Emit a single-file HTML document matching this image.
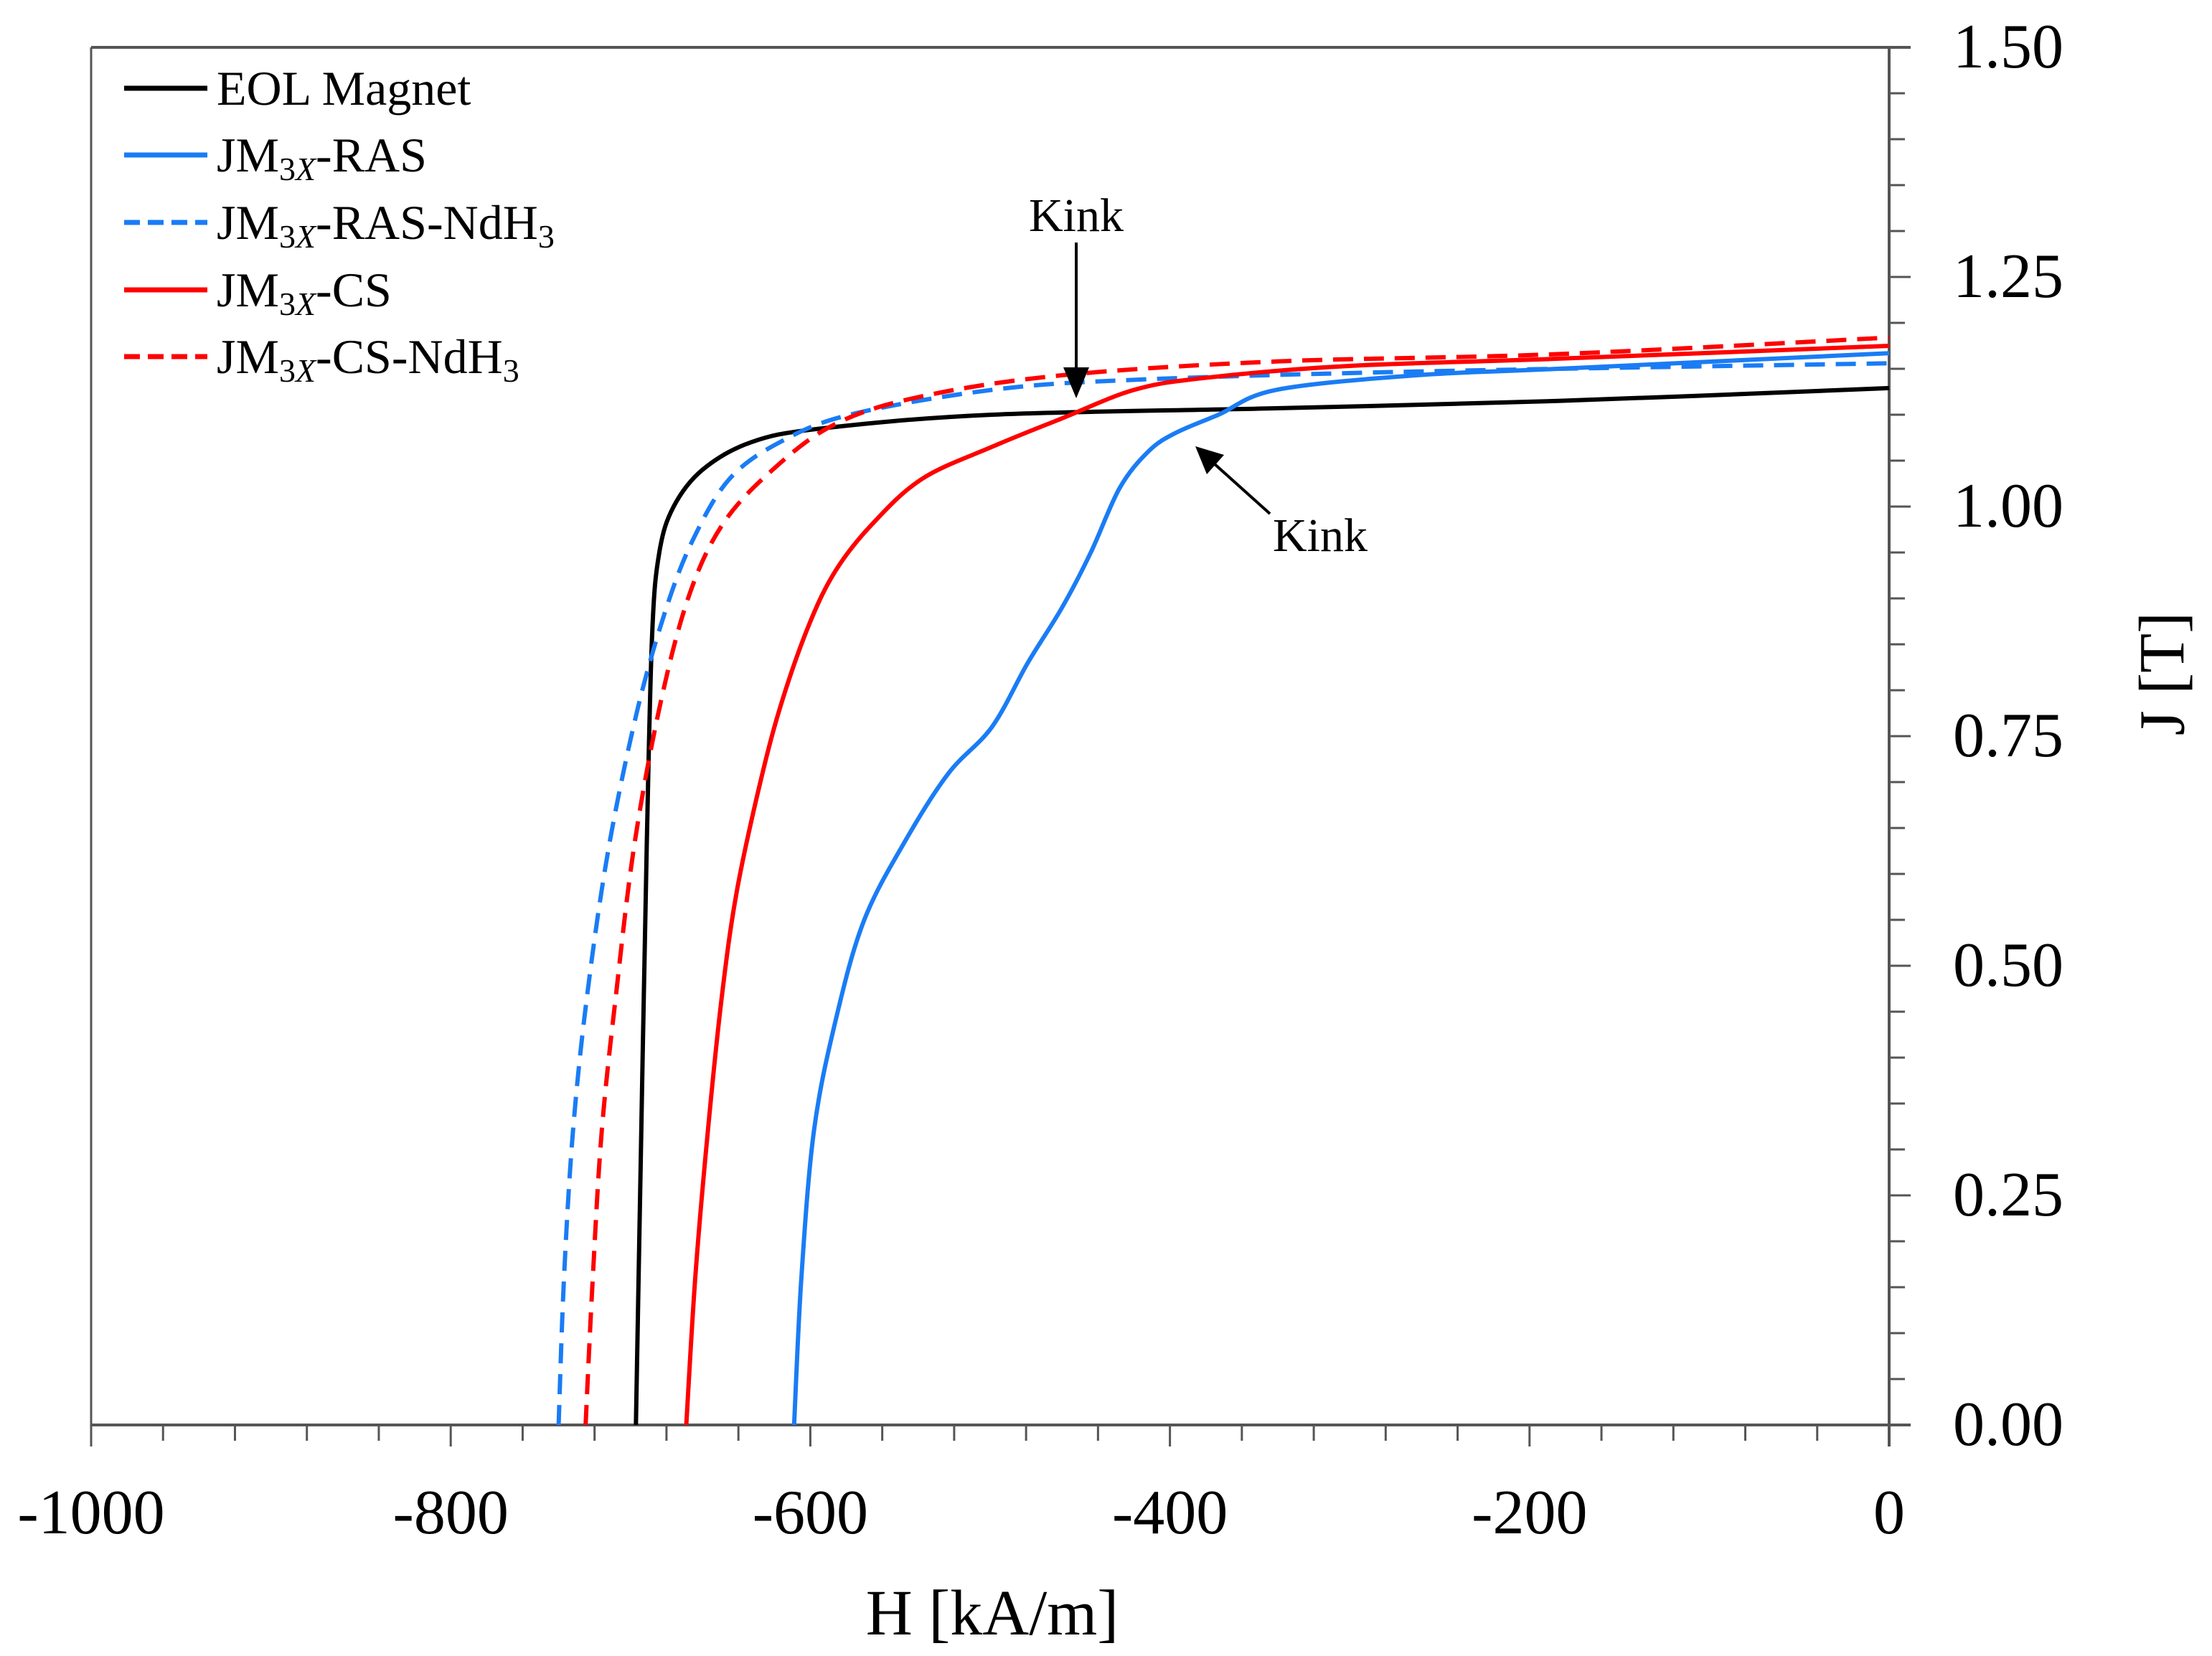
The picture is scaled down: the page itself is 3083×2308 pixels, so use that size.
<!DOCTYPE html>
<html><head><meta charset="utf-8"><style>
html,body{margin:0;padding:0;background:#fff;}
svg{display:block;font-family:"Liberation Serif",serif;}
</style></head><body>
<svg id="chart" width="3083" height="2308" viewBox="0 0 3083 2308" xmlns="http://www.w3.org/2000/svg">
<g id="axes"></g>
<g id="series"></g>
<g id="legend"></g>
<g id="notes">
  <text x="1500" y="322" font-size="66" text-anchor="middle">Kink</text>
  <line x1="1500" y1="338" x2="1500" y2="515" stroke="#000" stroke-width="4"/>
  <polygon points="1482,512 1518,512 1500,555" fill="#000"/>
  <text x="1840" y="768" font-size="66" text-anchor="middle">Kink</text>
  <line x1="1770" y1="716" x2="1692" y2="646" stroke="#000" stroke-width="4"/>
  <polygon points="1666,622 1706,634 1682,661" fill="#000"/>
</g>
<text x="1383" y="2278" font-size="90" text-anchor="middle">H [kA/m]</text>
<text x="3023" y="939" font-size="90" text-anchor="middle" dominant-baseline="middle" transform="rotate(-90 3023 939)">J [T]</text>
</svg>
<script>
const xTicks = [-1000, -800, -600, -400, -200, 0];
const xTickLabels = ["-1000", "-800", "-600", "-400", "-200", "0"];
const yTicks = [0, 0.25, 0.5, 0.75, 1.0, 1.25, 1.5];
const yTickLabels = ["0.00", "0.25", "0.50", "0.75", "1.00", "1.25", "1.50"];
const seriesNames = ["EOL Magnet", "JM3X-RAS", "JM3X-RAS-NdH3", "JM3X-CS", "JM3X-CS-NdH3"];
const eolH = [-697,-694,-691,-688,-684,-676,-660,-633,-594,-499,-341,-184,0];
const eolJ = [0,0.32,0.63,0.86,0.95,1.0,1.04,1.07,1.085,1.10,1.107,1.115,1.129];
const rasH = [-609,-605,-598,-586,-570,-546,-523,-499,-479,-460,-444,-428,-412,-397,-373,-341,-263,-184,0];
const rasJ = [0,0.16,0.32,0.44,0.55,0.64,0.71,0.76,0.83,0.89,0.95,1.02,1.06,1.08,1.10,1.127,1.143,1.15,1.167];
const rasNdH = [-740,-737,-732,-724,-712,-696,-680,-665,-645,-617,-578,-499,-420,-263,0];
const rasNdJ = [0,0.16,0.32,0.47,0.63,0.78,0.89,0.965,1.03,1.07,1.10,1.127,1.138,1.147,1.156];
const csH = [-669,-664,-657,-649,-641,-629,-617,-601,-586,-566,-538,-499,-460,-420,-381,-302,-184,0];
const csJ = [0,0.16,0.32,0.47,0.58,0.69,0.78,0.87,0.93,0.98,1.03,1.065,1.096,1.127,1.14,1.153,1.161,1.175];
const csNdH = [-725,-721,-716,-708,-698,-684,-668,-649,-621,-586,-538,-460,-341,-184,0];
const csNdJ = [0,0.16,0.32,0.47,0.63,0.78,0.90,0.98,1.04,1.09,1.12,1.143,1.158,1.166,1.184];

const NS = "http://www.w3.org/2000/svg";
const L = 127, R = 2633, T = 66, B = 1986;
function xS(h){ return L + (h + 1000) / 1000 * (R - L); }
function yS(j){ return B - j / 1.5 * (B - T); }
function mk(tag, attrs, parent){ const e = document.createElementNS(NS, tag); for (const k in attrs) e.setAttribute(k, attrs[k]); parent.appendChild(e); return e; }

const axes = document.getElementById("axes");
const ax = "#555";
let e;
e = mk("line", {x1:L, y1:T, x2:R+30, y2:T, stroke:ax, "stroke-width":4}, axes);


e = mk("line", {x1:L, y1:B, x2:R+30, y2:B, stroke:ax, "stroke-width":4}, axes);


e = mk("line", {x1:L, y1:T, x2:L, y2:B, stroke:ax, "stroke-width":3}, axes);


e = mk("line", {x1:R, y1:T, x2:R, y2:B+30, stroke:ax, "stroke-width":4}, axes);


for (let h = -1000; h <= 0; h += 40) {
  const major = xTicks.indexOf(h) >= 0;
  e = mk("line", {x1:xS(h), y1:B, x2:xS(h), y2:B + (major ? 30 : 22), stroke:ax, "stroke-width":3}, axes);
  
  
}
xTicks.forEach((h, i) => {
  e = mk("text", {x:xS(h), y:2137, "font-size":88, "text-anchor":"middle"}, axes);
  e.textContent = xTickLabels[i];
  
  
});
for (let k = 0; k <= 30; k++) {
  const j = k * 0.05;
  const major = k % 5 === 0;
  e = mk("line", {x1:R, y1:yS(j), x2:R + (major ? 30 : 22), y2:yS(j), stroke:ax, "stroke-width":3}, axes);
  
  
}
yTicks.forEach((j, i) => {
  e = mk("text", {x:2722, y:yS(j) + 28, "font-size":88}, axes);
  e.textContent = yTickLabels[i];
  
  
});

function pathFrom(H, J){
  const p = H.map((h, i) => [xS(h), yS(J[i])]);
  let d = "M" + p[0][0].toFixed(1) + "," + p[0][1].toFixed(1);
  for (let i = 0; i < p.length - 1; i++) {
    const p0 = p[Math.max(0, i-1)], p1 = p[i], p2 = p[i+1], p3 = p[Math.min(p.length-1, i+2)];
    const c1 = [p1[0] + (p2[0]-p0[0])/6, p1[1] + (p2[1]-p0[1])/6];
    const c2 = [p2[0] - (p3[0]-p1[0])/6, p2[1] - (p3[1]-p1[1])/6];
    d += " C" + c1.map(v=>v.toFixed(1)).join(",") + " " + c2.map(v=>v.toFixed(1)).join(",") + " " + p2.map(v=>v.toFixed(1)).join(",");
  }
  return d;
}
const styles = [
  {H:eolH, J:eolJ, c:"#000000", dash:null, name:"series-eol-magnet"},
  {H:rasH, J:rasJ, c:"#1a7cf5", dash:null, name:"series-jm3x-ras"},
  {H:rasNdH, J:rasNdJ, c:"#1a7cf5", dash:"28 15", name:"series-jm3x-ras-ndh3"},
  {H:csH, J:csJ, c:"#ff0000", dash:null, name:"series-jm3x-cs"},
  {H:csNdH, J:csNdJ, c:"#ff0000", dash:"28 15", name:"series-jm3x-cs-ndh3"}
];
const sg = document.getElementById("series");
styles.forEach(s => {
  const a = {d:pathFrom(s.H, s.J), fill:"none", stroke:s.c, "stroke-width":6, "stroke-linejoin":"round"};
  if (s.dash) a["stroke-dasharray"] = s.dash;
  e = mk("path", a, sg);
  
  
});

const lg = document.getElementById("legend");
const rowsY = [123, 216, 310, 404, 497];
styles.forEach((s, i) => {
  const a = {x1:173, y1:rowsY[i], x2:289, y2:rowsY[i], stroke:s.c, "stroke-width":7};
  if (s.dash) a["stroke-dasharray"] = "22 11";
  e = mk("line", a, lg);
  
  
  const t = mk("text", {x:302, y:rowsY[i] + 23, "font-size":68}, lg);
  
  
  const nm = seriesNames[i];
  if (nm.indexOf("JM3X") === 0) {
    t.appendChild(document.createTextNode("JM"));
    const sub = mk("tspan", {"font-size":46, dy:12}, t); sub.textContent = "3";
    const sub2 = mk("tspan", {"font-size":46, "font-style":"italic"}, t); sub2.textContent = "X";
    const rest = nm.slice(4);
    const r = mk("tspan", {dy:-12}, t);
    if (rest.endsWith("NdH3")) {
      r.textContent = rest.slice(0, -1);
      const s3 = mk("tspan", {"font-size":46, dy:12}, t); s3.textContent = "3";
    } else r.textContent = rest;
  } else t.textContent = nm;
});
</script>
</body></html>
